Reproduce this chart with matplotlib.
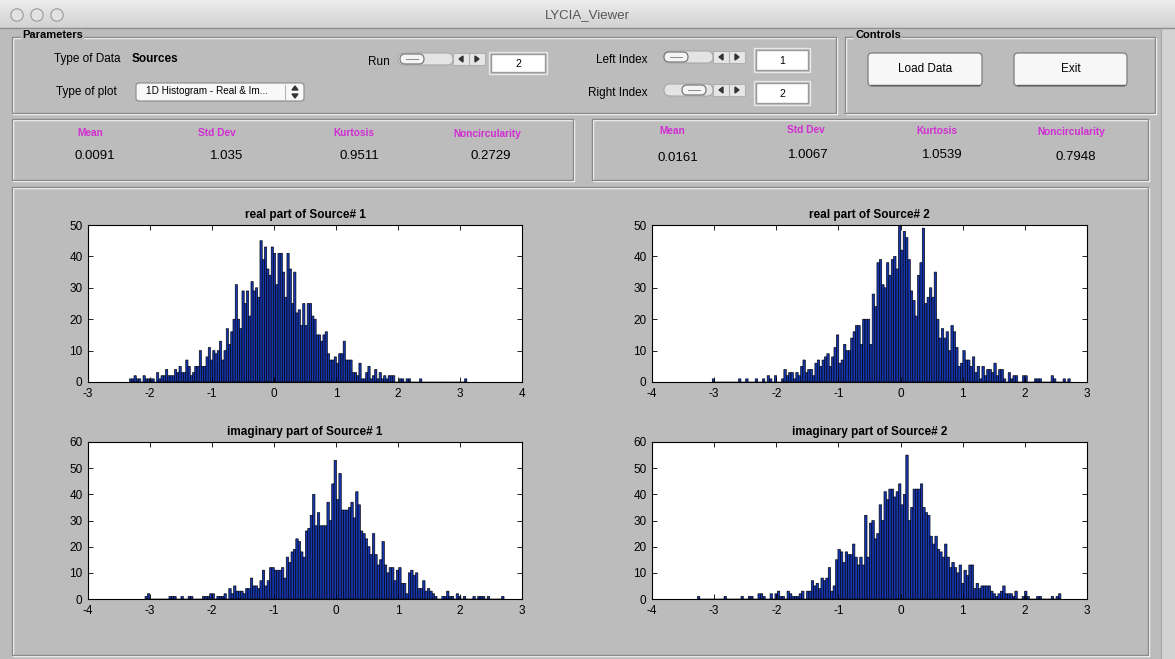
import numpy as np
import matplotlib
matplotlib.use("Agg")
import matplotlib.pyplot as plt
from matplotlib.patches import Rectangle, FancyBboxPatch, Circle, Polygon

plt.rcParams['font.family'] = ['Liberation Sans', 'DejaVu Sans']
plt.rcParams['axes.unicode_minus'] = False

W, H = 1175, 659
BG = '#bcbcbc'
BAR = '#1636b0'
MAGENTA = '#d22ed2'

# bin counts of the four histograms (150 bins each) and the data range they span
real1 = [1, 1, 2, 1, 1, 0, 2, 1, 1, 1,
         1, 0, 3, 1, 2, 2, 4, 2, 2, 2,
         4, 3, 5, 3, 3, 7, 5, 2, 3, 5,
         5, 10, 5, 5, 8, 11, 7, 10, 9, 10,
         13, 7, 10, 17, 12, 16, 20, 31, 20, 17,
         29, 25, 29, 21, 32, 29, 30, 27, 45, 39,
         43, 36, 34, 43, 41, 31, 41, 41, 35, 27,
         41, 36, 25, 35, 22, 23, 18, 25, 18, 25,
         25, 21, 20, 15, 15, 13, 15, 16, 9, 7,
         7, 8, 6, 9, 9, 13, 7, 7, 7, 3,
         3, 2, 6, 1, 1, 3, 5, 1, 2, 4,
         1, 3, 1, 2, 1, 2, 2, 2, 0, 0,
         1, 1, 0, 1, 1, 0, 0, 0, 0, 1,
         0, 0, 0, 0, 0, 0, 0, 0, 0, 0,
         0, 0, 0, 0, 0, 0, 0, 0, 0, 1]
real1_range = (-2.33, 3.11)

real2 = [1, 0, 0, 0, 0, 0, 0, 0, 0, 0,
         0, 1, 0, 0, 1, 0, 0, 0, 1, 0,
         0, 1, 0, 2, 1, 0, 2, 0, 0, 1,
         4, 2, 3, 3, 1, 3, 2, 5, 7, 3,
         4, 4, 2, 6, 7, 5, 7, 8, 9, 5,
         8, 11, 15, 6, 7, 12, 10, 10, 14, 16,
         18, 18, 12, 20, 20, 20, 12, 28, 24, 38,
         39, 31, 30, 38, 34, 39, 40, 36, 50, 42,
         48, 46, 39, 29, 26, 21, 34, 38, 49, 25,
         27, 30, 27, 35, 20, 14, 17, 14, 16, 10,
         18, 16, 11, 5, 6, 10, 7, 7, 5, 8,
         3, 5, 1, 5, 2, 4, 4, 3, 6, 2,
         4, 4, 1, 0, 3, 1, 2, 2, 0, 0,
         2, 2, 0, 0, 0, 1, 1, 1, 0, 0,
         0, 0, 2, 1, 0, 0, 0, 1, 0, 1]
real2_range = (-3.03, 2.73)

imag1 = [1, 2, 0, 0, 0, 0, 0, 0, 0, 0,
         1, 1, 1, 0, 0, 1, 0, 0, 1, 1,
         0, 0, 0, 0, 1, 1, 1, 2, 2, 0,
         1, 1, 1, 2, 0, 4, 2, 5, 3, 3,
         3, 2, 4, 4, 8, 5, 5, 4, 7, 11,
         5, 7, 12, 12, 11, 11, 11, 12, 8, 16,
         14, 18, 19, 23, 22, 18, 16, 26, 27, 32,
         40, 28, 33, 28, 28, 28, 37, 30, 44, 53,
         38, 48, 34, 34, 34, 35, 37, 31, 41, 36,
         26, 25, 23, 20, 17, 25, 17, 13, 15, 22,
         13, 10, 12, 12, 7, 11, 12, 6, 6, 2,
         10, 11, 9, 10, 4, 4, 7, 3, 4, 3,
         2, 1, 0, 0, 1, 1, 3, 1, 1, 0,
         2, 1, 0, 1, 0, 0, 0, 1, 0, 1,
         1, 1, 0, 1, 0, 0, 0, 0, 0, 1]
imag1_range = (-3.08, 2.71)

imag2 = [1, 0, 0, 0, 0, 0, 0, 0, 0, 0,
         0, 1, 0, 0, 0, 0, 0, 0, 1, 0,
         0, 1, 1, 0, 0, 2, 2, 1, 0, 0,
         2, 0, 2, 3, 1, 1, 0, 3, 2, 1,
         1, 1, 2, 3, 0, 3, 3, 7, 5, 6,
         4, 8, 7, 8, 12, 3, 5, 15, 19, 18,
         14, 18, 17, 17, 21, 16, 13, 16, 13, 32,
         16, 29, 30, 23, 25, 36, 30, 41, 38, 42,
         42, 39, 41, 44, 36, 40, 55, 30, 35, 42,
         42, 42, 44, 35, 33, 32, 24, 21, 24, 19,
         18, 16, 21, 16, 12, 14, 12, 10, 13, 6,
         11, 9, 13, 13, 4, 6, 4, 5, 5, 5,
         5, 3, 2, 1, 2, 3, 5, 2, 2, 2,
         1, 3, 0, 0, 1, 3, 1, 0, 0, 0,
         1, 1, 0, 0, 0, 0, 1, 0, 1, 2]
imag2_range = (-3.27, 2.58)

stat_names = ['Mean', 'Std Dev', 'Kurtosis', 'Noncircularity']
stats_left = ['0.0091', '1.035', '0.9511', '0.2729']
stats_right = ['0.0161', '1.0067', '1.0539', '0.7948']


def px_rect(x0, y0, x1, y1):
    return [x0 / W, 1 - y1 / H, (x1 - x0) / W, (y1 - y0) / H]


fig = plt.figure(figsize=(W / 100, H / 100), dpi=100)
fig.patch.set_facecolor(BG)
gui = fig.add_axes([0, 0, 1, 1])
gui.axis('off')

# window title bar
grad = np.linspace(0.93, 0.82, 40).reshape(-1, 1)
gui.imshow(np.dstack([grad, grad, grad]), extent=(0, W, 28, 0), aspect='auto')
gui.plot([0, W], [28, 28], color='#8e8e8e', lw=1)
for cx in (17, 37, 57):
    gui.add_patch(Circle((cx, 15), 6.2, facecolor='#e2e2e2', edgecolor='#9a9a9a', lw=0.8))
gui.text(W / 2, 15, 'LYCIA_Viewer', ha='center', va='center', fontsize=9.5, color='#555555')

# window edge on the right
gui.add_patch(Rectangle((1161, 29), W - 1161, H - 29, fc='#d2d2d2', ec='none'))
gui.plot([1161, 1161], [29, H], color='#a5a5a5', lw=0.8)

gui.set_xlim(0, W)
gui.set_ylim(H, 0)


def etched(x0, y0, x1, y1):
    gui.add_patch(Rectangle((x0 + 1, y0 + 1), x1 - x0, y1 - y0, fill=False, ec='white', lw=1))
    gui.add_patch(Rectangle((x0, y0), x1 - x0, y1 - y0, fill=False, ec='#8a8a8a', lw=1))


def panel_title(x, y, label):
    gui.text(x, y, label, ha='left', va='center', fontsize=8, fontweight='bold',
             bbox=dict(fc=BG, ec='none', pad=1))


def edit_box(x0, y0, x1, y1, label):
    gui.add_patch(Rectangle((x0, y0), x1 - x0, y1 - y0, fc='white', ec='#9a9a9a', lw=1))
    gui.add_patch(Rectangle((x0 - 2, y0 - 2), x1 - x0 + 4, y1 - y0 + 4, fill=False, ec='#e8e8e8', lw=1))
    gui.text((x0 + x1) / 2, (y0 + y1) / 2 + 1, label, ha='center', va='center', fontsize=7.5)


def slider(x0, y, x1, thumb):
    track_end = x1 - 32
    gui.add_patch(FancyBboxPatch((x0, y - 6), track_end - x0, 12,
                                 boxstyle='round,pad=0,rounding_size=6',
                                 fc='#e4e4e4', ec='#a8a8a8', lw=0.8))
    gui.add_patch(FancyBboxPatch((thumb - 12, y - 5), 24, 10,
                                 boxstyle='round,pad=0,rounding_size=5',
                                 fc='#f4f4f4', ec='#7a7a7a', lw=0.9))
    gui.plot([thumb - 6, thumb + 6], [y, y], color='#8a8a8a', lw=0.7)
    gui.add_patch(Rectangle((track_end, y - 6), 32, 12, fc='#e6e6e6', ec='#b0b0b0', lw=0.8))
    gui.plot([track_end + 16, track_end + 16], [y - 6, y + 6], color='#b0b0b0', lw=0.8)
    lx, rx = track_end + 8, track_end + 24
    gui.add_patch(Polygon([[lx + 2, y - 3], [lx + 2, y + 3], [lx - 2, y]], color='#333333'))
    gui.add_patch(Polygon([[rx - 2, y - 3], [rx - 2, y + 3], [rx + 2, y]], color='#333333'))


def button(x0, y0, x1, y1, label):
    gui.add_patch(FancyBboxPatch((x0, y0), x1 - x0, y1 - y0,
                                 boxstyle='round,pad=0,rounding_size=4',
                                 fc='#f7f7f7', ec='#7d7d7d', lw=0.9))
    gui.plot([x0 + 3, x1 - 3], [y1 - 1, y1 - 1], color='#5f5f5f', lw=1)
    gui.text((x0 + x1) / 2, (y0 + y1) / 2, label, ha='center', va='center', fontsize=8.5)


# Parameters panel
etched(12, 37, 836, 113)
panel_title(22, 35, 'Parameters')
gui.text(54, 59, 'Type of Data', ha='left', va='center', fontsize=8.5)
gui.text(132, 59, 'Sources', ha='left', va='center', fontsize=8.5, fontweight='bold')
gui.text(56, 92, 'Type of plot', ha='left', va='center', fontsize=8.5)
gui.add_patch(FancyBboxPatch((136, 83), 168, 18, boxstyle='round,pad=0,rounding_size=3',
                             fc='#f8f8f8', ec='#8a8a8a', lw=0.8))
gui.plot([285, 285], [85, 99], color='#b5b5b5', lw=0.8)
gui.add_patch(Polygon([[292, 90], [298, 90], [295, 86]], color='#333333'))
gui.add_patch(Polygon([[292, 94], [298, 94], [295, 98]], color='#333333'))
gui.text(146, 91.5, '1D Histogram - Real & Im...', ha='left', va='center', fontsize=7.2)

gui.text(368, 62, 'Run', ha='left', va='center', fontsize=8.5)
slider(398, 59, 485, 412)
edit_box(491, 54, 545, 72, '2')

gui.text(596, 60, 'Left Index', ha='left', va='center', fontsize=8.5)
slider(664, 57, 745, 676)
edit_box(756, 50, 808, 70, '1')

gui.text(588, 93, 'Right Index', ha='left', va='center', fontsize=8.5)
slider(664, 90, 745, 694)
edit_box(756, 83, 808, 103, '2')

# Controls panel
etched(845, 37, 1155, 113)
panel_title(855, 35, 'Controls')
button(868, 53, 982, 86, 'Load Data')
button(1014, 53, 1127, 86, 'Exit')

# statistics panels
etched(12, 119, 573, 180)
etched(592, 119, 1148, 180)
for name, val, xl, xv, yl, yv in zip(stat_names, stats_left,
                                      [90, 217, 354, 487], [95, 227, 359, 491],
                                      [133, 133, 133, 134], [156, 156, 156, 156]):
    gui.text(xl, yl, name, ha='center', va='center', fontsize=7.3, fontweight='bold', color=MAGENTA)
    gui.text(xv, yv, val, ha='center', va='center', fontsize=9.5)
for name, val, xl, xv, yl, yv in zip(stat_names, stats_right,
                                      [672, 806, 937, 1071], [678, 808, 942, 1076],
                                      [131, 130, 131, 132], [158, 155, 155, 157]):
    gui.text(xl, yl, name, ha='center', va='center', fontsize=7.3, fontweight='bold', color=MAGENTA)
    gui.text(xv, yv, val, ha='center', va='center', fontsize=9.5)

# plot panel
etched(12, 187, 1148, 655)


def draw_hist(box, counts, data_range, xlim, ylim, title):
    ax = fig.add_axes(px_rect(*box))
    edges = np.linspace(data_range[0], data_range[1], len(counts) + 1)
    bars = ax.bar(edges[:-1], counts, width=np.diff(edges), align='edge',
                  color=BAR, edgecolor='black', linewidth=0.45)
    for b in bars:
        b.set_snap(False)
    ax.set_xlim(xlim)
    ax.set_ylim(ylim)
    ax.set_xticks(range(xlim[0], xlim[1] + 1))
    ax.set_yticks(range(0, ylim[1] + 1, 10))
    ax.tick_params(direction='in', top=True, right=True, labelsize=8.5,
                   length=3.5, width=0.6, pad=4)
    for s in ax.spines.values():
        s.set_linewidth(0.8)
    ax.set_title(title, fontsize=8.5, fontweight='bold', pad=5)
    return ax


draw_hist((88, 225, 522, 382), real1, real1_range, (-3, 4), (0, 50), 'real part of Source# 1')
draw_hist((652, 225, 1087, 382), real2, real2_range, (-4, 3), (0, 50), 'real part of Source# 2')
draw_hist((88, 442, 522, 599), imag1, imag1_range, (-4, 3), (0, 60), 'imaginary part of Source# 1')
draw_hist((652, 442, 1087, 599), imag2, imag2_range, (-4, 3), (0, 60), 'imaginary part of Source# 2')

fig.savefig('out.png', dpi=100, facecolor=fig.get_facecolor())
